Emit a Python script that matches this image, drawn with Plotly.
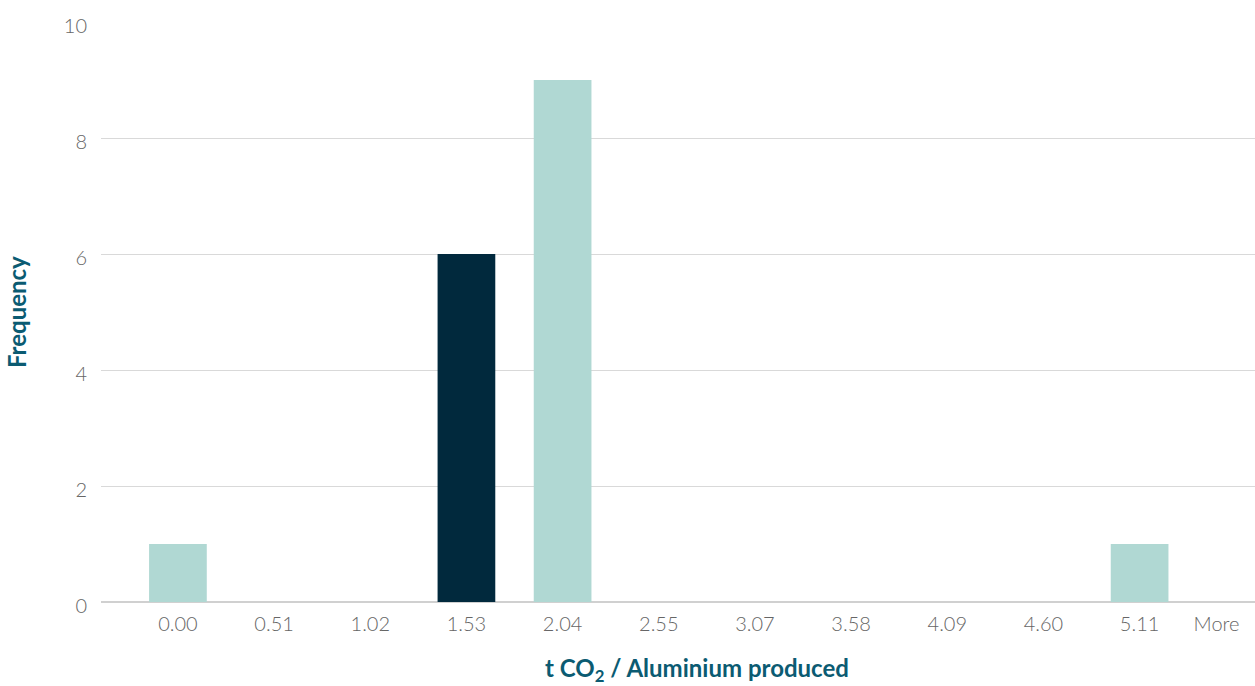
import plotly.graph_objects as go

categories = ["0.00", "0.51", "1.02", "1.53", "2.04", "2.55", "3.07", "3.58", "4.09", "4.60", "5.11", "More"]
frequency = [1, 0, 0, 6, 9, 0, 0, 0, 0, 0, 1, 0]
highlight = "1.53"

light = "#B0D8D3"
dark = "#01293D"
colors = [dark if c == highlight else light for c in categories]
idx = list(range(len(categories)))
# last label sits slightly inward so it stays inside the page
tick_pos = idx[:-1] + [idx[-1] - 0.2]

fig = go.Figure()
fig.add_trace(go.Bar(
    x=idx, y=frequency, marker=dict(color=colors, line=dict(width=0)),
    width=0.6, showlegend=False,
))

tick_font = dict(family="Lato", size=20, color="#666666", weight=300)
title_color = "#0B5B72"

fig.update_layout(
    width=1255, height=686,
    margin=dict(l=101, r=0, t=22, b=84),
    paper_bgcolor="white", plot_bgcolor="white",
    xaxis=dict(
        range=[-0.8, 11.2], tickmode="array", tickvals=tick_pos, ticktext=categories,
        showgrid=False, zeroline=False, showline=False, ticks="",
        tickfont=tick_font, ticklabelstandoff=8,
    ),
    yaxis=dict(
        range=[0, 10], tickvals=[0, 2, 4, 6, 8, 10], showgrid=True,
        gridcolor="#D9D9D9", gridwidth=1, zeroline=True, zerolinecolor="#D0D0D0",
        zerolinewidth=1.5, ticks="", tickfont=tick_font, ticklabelstandoff=13,
        ticklabelshift=4,
    ),
    annotations=[
        dict(text="t CO<sub>2</sub> / Aluminium produced", xref="paper", yref="paper",
             x=0.5165, y=0, yshift=-67, xanchor="center", yanchor="middle", showarrow=False,
             font=dict(family="Lato", size=24, color=title_color, weight="bold")),
        dict(text="Frequency", xref="paper", yref="paper", x=0, xshift=-85, y=0.5,
             textangle=-90, xanchor="center", yanchor="middle", showarrow=False,
             font=dict(family="Lato", size=24, color=title_color, weight="bold")),
    ],
)

fig.write_html("out.html", config={"displayModeBar": False},
               post_script="document.body.style.margin='0';document.body.style.overflow='hidden';")
